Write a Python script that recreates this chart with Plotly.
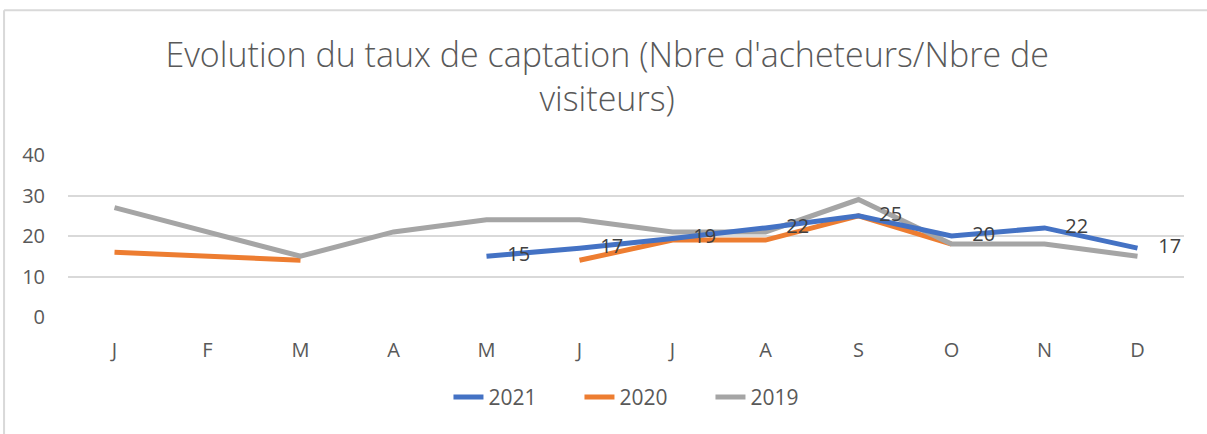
import plotly.graph_objects as go

months = ["J", "F", "M", "A", "M", "J", "J", "A", "S", "O", "N", "D"]
y2021 = [None, None, None, None, 15, 17, 19.4, 22, 25, 20, 22, 17]
y2020 = [16, 15, 14, None, None, 14, 19, 19, 25, 18, None, None]
y2019 = [27, 21, 15, 21, 24, 24, 21, 21, 29, 18, 18, 15]

labels_2021 = ["" if v is None else "    %d" % round(v) for v in y2021]

x = list(range(len(months)))

fig = go.Figure()
fig.add_trace(go.Scatter(x=x, y=y2020, name="2020", mode="lines", legendrank=2,
                         line=dict(color="#ED7D31", width=5)))
fig.add_trace(go.Scatter(x=x, y=y2019, name="2019", mode="lines", legendrank=3,
                         line=dict(color="#A5A5A5", width=5)))
# 2021 drawn last so its labels sit on top
fig.add_trace(go.Scatter(x=x, y=y2021, name="2021", mode="lines+text", legendrank=1,
                         line=dict(color="#4472C4", width=5),
                         text=labels_2021, textposition="middle right",
                         textfont=dict(family="Open Sans", size=20, color="#404040")))

fig.update_layout(
    width=1207, height=434,
    margin=dict(l=68, r=23, t=155, b=117),
    paper_bgcolor="white", plot_bgcolor="white",
    font=dict(family="Open Sans", color="#595959", size=20),
    title=dict(text="Evolution du taux de captation (Nbre d'acheteurs/Nbre de<br>visiteurs)",
               x=0.503, xanchor="center", y=0.845, yanchor="top",
               font=dict(family="Open Sans", size=34, color="#595959", weight=300)),
    showlegend=True,
    legend=dict(orientation="h", x=0.517, xanchor="center", y=-0.37, yanchor="top",
                font=dict(size=21, color="#595959"),
                entrywidth=86, entrywidthmode="pixels"),
    xaxis=dict(range=[-0.5, 11.5], tickmode="array", tickvals=x, ticktext=months,
               showgrid=False, zeroline=False, showline=False, ticks="",
               ticklabelstandoff=19),
    yaxis=dict(range=[0, 40], tickvals=[0, 10, 20, 30, 40], showgrid=True,
               gridcolor="#D9D9D9", gridwidth=2, zeroline=False, showline=False,
               ticklabelstandoff=22),
    shapes=[
        dict(type="line", xref="paper", yref="paper", x0=-0.0573, x1=1.03,
             y0=1.893, y1=1.893, line=dict(color="#D9D9D9", width=2)),
        dict(type="line", xref="paper", yref="paper", x0=-0.0573, x1=-0.0573,
             y0=1.893, y1=-0.8, line=dict(color="#D9D9D9", width=2)),
    ],
)

fig.write_html("out.html", config={"displayModeBar": False},
               post_script="document.body.style.margin='0';")
